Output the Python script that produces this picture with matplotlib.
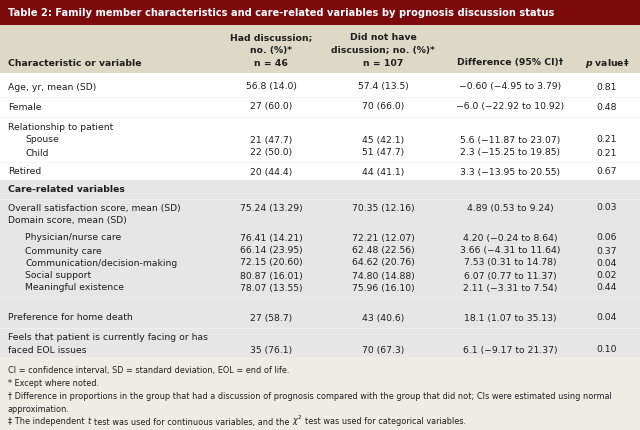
import matplotlib.pyplot as plt
from matplotlib.patches import Rectangle

plt.rcParams['font.family'] = ['DejaVu Sans']

title = "Table 2: Family member characteristics and care-related variables by prognosis discussion status"

headers = [
    "Had discussion;\nno. (%)*\nn = 46",
    "Did not have\ndiscussion; no. (%)*\nn = 107",
    "Difference (95% CI)\u2020",
]

labels = [
    "Age, yr, mean (SD)",
    "Female",
    "Relationship to patient",
    "Spouse",
    "Child",
    "Retired",
    "Care-related variables",
    "Overall satisfaction score, mean (SD)",
    "Domain score, mean (SD)",
    "Physician/nurse care",
    "Community care",
    "Communication/decision-making",
    "Social support",
    "Meaningful existence",
    "Preference for home death",
    "Feels that patient is currently facing or has\nfaced EOL issues",
]
had = ["56.8 (14.0)", "27 (60.0)", "", "21 (47.7)", "22 (50.0)", "20 (44.4)", "",
       "75.24 (13.29)", "", "76.41 (14.21)", "66.14 (23.95)", "72.15 (20.60)",
       "80.87 (16.01)", "78.07 (13.55)", "27 (58.7)", "35 (76.1)"]
not_had = ["57.4 (13.5)", "70 (66.0)", "", "45 (42.1)", "51 (47.7)", "44 (41.1)", "",
           "70.35 (12.16)", "", "72.21 (12.07)", "62.48 (22.56)", "64.62 (20.76)",
           "74.80 (14.88)", "75.96 (16.10)", "43 (40.6)", "70 (67.3)"]
diff = ["\u22120.60 (\u22124.95 to 3.79)", "\u22126.0 (\u221222.92 to 10.92)", "",
        "5.6 (\u221211.87 to 23.07)", "2.3 (\u221215.25 to 19.85)", "3.3 (\u221213.95 to 20.55)", "",
        "4.89 (0.53 to 9.24)", "", "4.20 (\u22120.24 to 8.64)", "3.66 (\u22124.31 to 11.64)",
        "7.53 (0.31 to 14.78)", "6.07 (0.77 to 11.37)", "2.11 (\u22123.31 to 7.54)",
        "18.1 (1.07 to 35.13)", "6.1 (\u22129.17 to 21.37)"]
pvals = ["0.81", "0.48", "", "0.21", "0.21", "0.67", "", "0.03", "", "0.06", "0.37",
         "0.04", "0.02", "0.44", "0.04", "0.10"]

footnotes = [
    "CI = confidence interval, SD = standard deviation, EOL = end of life.",
    "* Except where noted.",
    "\u2020 Difference in proportions in the group that had a discussion of prognosis compared with the group that did not; CIs were estimated using normal\napproximation.",
]
# last footnote has an italic t and chi-square, drawn piece by piece
last_note = [
    ("\u2021 The independent", "normal"),
    ("t", "italic"),
    ("test was used for continuous variables, and the", "normal"),
    ("$\\chi^2$", "normal"),
    ("test was used for categorical variables.", "normal"),
]

# layout (pixels)
row_y = [87, 107, 127, 140, 153, 172, 190, 208, 221, 238, 251, 263, 276, 288, 318, 344]
indent = [0, 0, 0, 1, 1, 0, 0, 0, 0, 1, 1, 1, 1, 1, 0, 0]
bold_rows = {6}
col_x = [271, 383, 510, 607]
foot_y = [370, 383, 403, 422]
txt = "#1e1e1e"
fs = 6.7
ffs = 5.9

fig = plt.figure(figsize=(6.4, 4.3), dpi=100)
ax = fig.add_axes([0, 0, 1, 1])
ax.set_xlim(0, 640)
ax.set_ylim(430, 0)
ax.axis("off")

# backgrounds
ax.add_patch(Rectangle((0, 0), 640, 25, color="#7c0a0c", lw=0))
ax.add_patch(Rectangle((0, 25), 640, 48, color="#dcdac7", lw=0))
ax.add_patch(Rectangle((0, 73), 640, 107, color="white", lw=0))
ax.add_patch(Rectangle((0, 180), 640, 177, color="#e6e6e6", lw=0))
ax.add_patch(Rectangle((0, 357), 640, 73, color="#efede3", lw=0))

# separators
for y in [97, 117, 162]:
    ax.plot([0, 640], [y, y], color="#f2f2f2", lw=0.6)
for y in [199, 297, 328]:
    ax.plot([0, 640], [y, y], color="#f0f0f0", lw=0.6)

ax.text(8, 12.5, title, color="white", fontsize=7.1, fontweight="bold", va="center", ha="left")

ax.text(8, 63, "Characteristic or variable", color=txt, fontsize=fs, fontweight="bold", va="center")
for x, h in zip(col_x[:3], headers):
    ax.text(x, 67.5, h, color=txt, fontsize=fs, fontweight="bold", ha="center", va="bottom",
            linespacing=1.55)
ax.text(col_x[3], 63, "$\\mathbfit{p}$ value\u2021", color=txt, fontsize=fs, fontweight="bold",
        ha="center", va="center")

for i, lab in enumerate(labels):
    y = row_y[i]
    x0 = 25 if indent[i] else 8
    w = "bold" if i in bold_rows else "normal"
    ax.text(x0, y, lab, color=txt, fontsize=fs, fontweight=w, va="center", linespacing=1.45)
    vy = y + 6 if "\n" in lab else y
    for x, v in zip(col_x, [had[i], not_had[i], diff[i], pvals[i]]):
        if v:
            ax.text(x, vy, v, color=txt, fontsize=fs, ha="center", va="center")

for y, f in zip(foot_y, footnotes):
    ax.text(8, y, f, color=txt, fontsize=ffs, va="center", linespacing=1.6)

renderer = fig.canvas.get_renderer()
space = 0.318 * ffs * 100 / 72
x = 8
for piece, style in last_note:
    t = ax.text(x, foot_y[-1] + (-1.2 if "$" in piece else 0), piece, color=txt, fontsize=ffs,
                style=style, va="center")
    bb = t.get_window_extent(renderer)
    x = x + bb.width + space + (1.0 if style == "italic" else 0)

fig.savefig("out.png", dpi=100)
